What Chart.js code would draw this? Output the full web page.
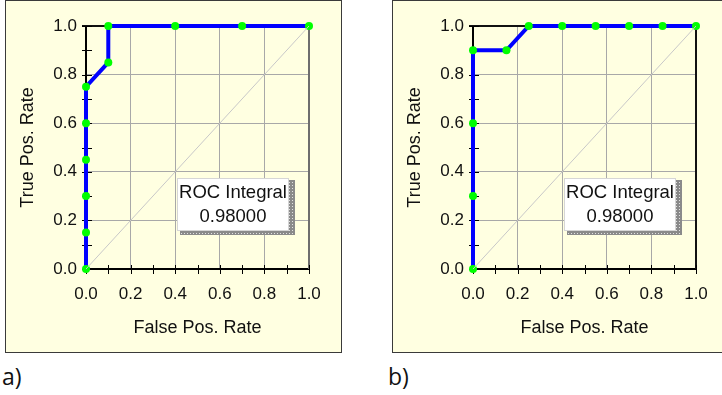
<!DOCTYPE html>
<html>
<head>
<meta charset="utf-8">
<script src="https://cdn.jsdelivr.net/npm/chart.js@4.4.1/dist/chart.umd.min.js"></script>
<style>
    body { margin: 0; background: #fff; width: 722px; height: 395px; overflow: hidden; position: relative; }
    .panel { position: absolute; top: 0; width: 335px; height: 351px; border: 1px solid #3a3a3a; background: #FFFFE1; }
    .panel canvas { display: block; }
    .tag { position: absolute; top: 362px; font: 23px "Open Sans", sans-serif; line-height: 28px; color: #111; }
</style>
</head>
<body>
<div class="panel" style="left:5px"><canvas id="rocA" width="335" height="351"></canvas></div>
<div class="panel" style="left:392px"><canvas id="rocB" width="335" height="351"></canvas></div>
<div class="tag" style="left:2px">a)</div>
<div class="tag" style="left:388px">b)</div>
<script>
/*
    roc.js

    two ROC curves side by side, same axes
*/

// curve a)
const fprA = [0, 0, 0, 0, 0, 0, 0.1, 0.1, 0.4, 0.7, 1.0];
const tprA = [0, 0.15, 0.3, 0.45, 0.6, 0.75, 0.85, 1.0, 1.0, 1.0, 1.0];
// curve b)
const fprB = [0, 0, 0, 0, 0.15, 0.25, 0.4, 0.55, 0.7, 0.85, 1.0];
const tprB = [0, 0.3, 0.6, 0.9, 0.9, 1.0, 1.0, 1.0, 1.0, 1.0, 1.0];
// chance diagonal
const chanceX = [0, 1];
const chanceY = [0, 1];
// area under each curve, as printed in the box
const rocIntegral = [0.98, 0.98];

const FONT = '"Liberation Sans", Arial, sans-serif';

/*
    shadePattern

    grey dotted fill used for the box shadow
*/
function shadePattern(ctx) {
    const c = document.createElement('canvas');
    c.width = 3; c.height = 3;
    const p = c.getContext('2d');
    p.fillStyle = '#8a8a8a';
    p.fillRect(0, 0, 3, 3);
    p.fillStyle = '#e2e2e2';
    p.fillRect(1, 1, 1, 1);
    return ctx.createPattern(c, 'repeat');
}

// tick marks crossing the axes + top/right edge of the plot frame
const frameTicks = {
    id: 'frameTicks',
    beforeDatasetsDraw(chart, args, opts) {
        const {ctx, chartArea: a, scales: {x, y}} = chart;
        ctx.save();
        ctx.strokeStyle = opts.rightColor || '#222';
        ctx.lineWidth = 2;
        ctx.beginPath();
        ctx.moveTo(a.right, a.bottom);
        ctx.lineTo(a.right, a.top);
        ctx.stroke();
        ctx.strokeStyle = '#111';
        ctx.beginPath();
        ctx.moveTo(a.left - 4, a.top);
        ctx.lineTo(a.right, a.top);
        ctx.stroke();
        ctx.lineWidth = 1;
        ctx.strokeStyle = '#000';
        ctx.beginPath();
        x.ticks.forEach(t => {
            const px = Math.round(x.getPixelForValue(t.value)) + 0.5;
            ctx.moveTo(px, a.bottom - 4);
            ctx.lineTo(px, a.bottom + 5);
        });
        y.ticks.forEach(t => {
            const py = Math.round(y.getPixelForValue(t.value)) + 0.5;
            ctx.moveTo(a.left - 4, py);
            ctx.lineTo(a.left + 6, py);
        });
        ctx.stroke();
        ctx.restore();
    }
};

// "ROC Integral" box with dotted drop shadow
const rocBox = {
    id: 'rocBox',
    afterDatasetsDraw(chart, args, opts) {
        const {ctx, chartArea: a} = chart;
        const L = a.left + 91, T = a.top + 152, W = 112, H = 53;
        ctx.save();
        ctx.fillStyle = shadePattern(ctx);
        ctx.fillRect(L + 3, T + 2, W + 3, H + 2);
        ctx.fillStyle = '#fff';
        ctx.fillRect(L, T, W, H);
        ctx.strokeStyle = '#d6d6d6';
        ctx.lineWidth = 1;
        ctx.strokeRect(L + 0.5, T + 0.5, W - 1, H - 1);
        ctx.fillStyle = '#111';
        ctx.font = '18.5px ' + FONT;
        ctx.textAlign = 'center';
        ctx.textBaseline = 'middle';
        ctx.fillText('ROC Integral', L + W / 2, T + 15);
        ctx.fillText(opts.value.toFixed(5), L + W / 2, T + 39);
        ctx.restore();
    }
};

function isMajor(v) {
    return Math.round(v * 10) % 2 === 0;
}

/*
    makeRoc

    builds one ROC panel
    input(s): canvas id, fpr list, tpr list, integral, colour of right frame edge
*/
function makeRoc(id, fpr, tpr, integral, rightColor) {
    const axisCommon = {
        type: 'linear',
        min: 0,
        max: 1,
        grid: {
            color: ctx => isMajor(ctx.tick.value) ? '#a8a8a8' : 'rgba(0,0,0,0)',
            drawTicks: false,
            lineWidth: 1
        },
        border: { color: '#000', width: 2 },
        ticks: {
            stepSize: 0.1,
            autoSkip: false,
            maxRotation: 0,
            minRotation: 0,
            color: '#111',
            font: { family: FONT, size: 17 },
            callback: v => isMajor(v) ? v.toFixed(1) : ''
        }
    };
    return new Chart(id, {
        type: 'scatter',
        data: {
            datasets: [
                {
                    data: chanceX.map((v, i) => ({x: v, y: chanceY[i]})),
                    showLine: true,
                    borderColor: '#c8c8c8',
                    borderWidth: 1,
                    pointRadius: 0
                },
                {
                    data: fpr.map((v, i) => ({x: v, y: tpr[i]})),
                    showLine: true,
                    borderColor: '#0000ff',
                    borderWidth: 4,
                    pointRadius: 4,
                    pointBorderWidth: 0,
                    pointBackgroundColor: '#00ff00',
                    clip: false
                }
            ]
        },
        options: {
            responsive: false,
            animation: false,
            layout: { padding: { left: 0, top: 25, right: 32, bottom: 0 } },
            scales: {
                x: Object.assign({}, axisCommon, {
                    ticks: Object.assign({}, axisCommon.ticks, { padding: 15 }),
                    title: {
                        display: true,
                        text: 'False Pos. Rate',
                        color: '#111',
                        font: { family: FONT, size: 18 },
                        padding: { top: 0, bottom: 13 }
                    },
                    afterFit: s => { s.height = 83; }
                }),
                y: Object.assign({}, axisCommon, {
                    ticks: Object.assign({}, axisCommon.ticks, { padding: 9 }),
                    title: {
                        display: true,
                        text: 'True Pos. Rate',
                        color: '#111',
                        font: { family: FONT, size: 18 },
                        padding: { top: 11, bottom: 0 }
                    },
                    afterFit: s => { s.width = 80; }
                })
            },
            plugins: {
                legend: { display: false },
                tooltip: { enabled: false },
                frameTicks: { rightColor: rightColor },
                rocBox: { value: integral }
            }
        },
        plugins: [frameTicks, rocBox]
    });
}

const g1 = makeRoc('rocA', fprA, tprA, rocIntegral[0], '#6e6e6e');
const g2 = makeRoc('rocB', fprB, tprB, rocIntegral[1], '#111');
</script>
</body>
</html>
